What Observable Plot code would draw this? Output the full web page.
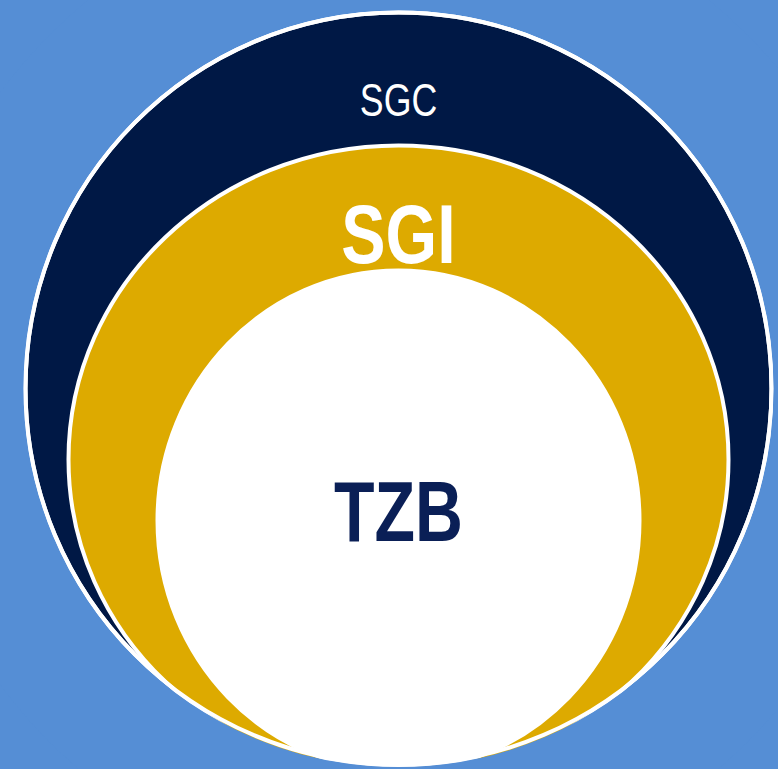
<!DOCTYPE html>
<html>
<head>
<meta charset="utf-8">
<script src="https://cdn.jsdelivr.net/npm/d3@7"></script>
<script src="https://cdn.jsdelivr.net/npm/@observablehq/plot@0.6"></script>
<style>
  html, body { margin: 0; padding: 0; background: #558ED5; overflow: hidden; }
</style>
</head>
<body>
<div id="chart"></div>
<script>
// Nested-ellipse diagram: outer → inner
const names   = ["SGC", "SGI", "TZB"];
const centerX = [398, 398, 398];
const centerY = [388, 459, 520];
const radiusX = [373, 330, 241];
const radiusY = [376, 314, 250];
const fills   = ["#001845", "#DDAA00", "#FFFFFF"];
// Label placement and styling
const labelY      = [100, 236, 513];
const labelSize   = [47, 84, 85];
const labelWeight = ["normal", "bold", "bold"];
const labelColor  = ["#FFFFFF", "#FFFFFF", "#0A1F56"];
const labelSqueeze = [0.76, 0.79, 0.78];

const W = 778, H = 769, BG = "#558ED5";

// custom Plot symbol: ellipse with given y/x aspect
function ellipseSymbol(aspect) {
  return {
    draw(ctx, size) {
      const rx = Math.sqrt(size / Math.PI), ry = rx * aspect, k = 0.5522847498;
      ctx.moveTo(rx, 0);
      ctx.bezierCurveTo(rx, ry * k, rx * k, ry, 0, ry);
      ctx.bezierCurveTo(-rx * k, ry, -rx, ry * k, -rx, 0);
      ctx.bezierCurveTo(-rx, -ry * k, -rx * k, -ry, 0, -ry);
      ctx.bezierCurveTo(rx * k, -ry, rx, -ry * k, rx, 0);
      ctx.closePath();
    }
  };
}

const shapes = names.map((n, i) => ({name: n, x: centerX[i], y: centerY[i], r: radiusX[i], aspect: radiusY[i] / radiusX[i], fill: fills[i]}));
const labels = names.map((n, i) => ({name: n, x: centerX[i], y: labelY[i], size: labelSize[i], weight: labelWeight[i], color: labelColor[i], squeeze: labelSqueeze[i]}));
const outer = shapes[0];

const font = "'Liberation Sans', Arial, sans-serif";

const marks = [];
shapes.forEach(s => {
  marks.push(Plot.dot([s], {x: "x", y: "y", r: "r", symbol: ellipseSymbol(s.aspect), fill: "fill", stroke: "#FFFFFF", strokeWidth: 4}));
});
// clip inner shapes to the outer one: background ring outside it
marks.push(Plot.dot([outer], {x: "x", y: "y", r: d => d.r + 62, symbol: ellipseSymbol(outer.aspect), fill: "none", stroke: BG, strokeWidth: 120}));
// outer white rim on top
marks.push(Plot.dot([outer], {x: "x", y: "y", r: "r", symbol: ellipseSymbol(outer.aspect), fill: "none", stroke: "#FFFFFF", strokeWidth: 4}));
labels.forEach(l => {
  marks.push(Plot.text([l], {
    x: "x", y: "y", text: "name", fill: l.color,
    fontSize: l.size, fontWeight: l.weight, fontFamily: font,
    className: "lbl-" + l.name
  }));
});

const chart = Plot.plot({
  width: W, height: H,
  marginTop: 0, marginRight: 0, marginBottom: 0, marginLeft: 0,
  x: {domain: [0, W], range: [0, W], axis: null},
  y: {domain: [0, H], range: [0, H], axis: null},
  r: {type: "identity"},
  color: {type: "identity"},
  style: {background: BG, overflow: "hidden"},
  marks
});
// condense the labels (narrow face, like Arial Narrow)
labels.forEach(l => {
  d3.select(chart).selectAll(`.lbl-${l.name} text`).each(function() {
    const t = d3.select(this);
    const x = +(t.attr("x") || 0);
    const tr = t.attr("transform") || "";
    t.attr("transform", `${tr} translate(${x},0) scale(${l.squeeze},1) translate(${-x},0)`);
  });
});
document.getElementById("chart").appendChild(chart);
</script>
</body>
</html>
